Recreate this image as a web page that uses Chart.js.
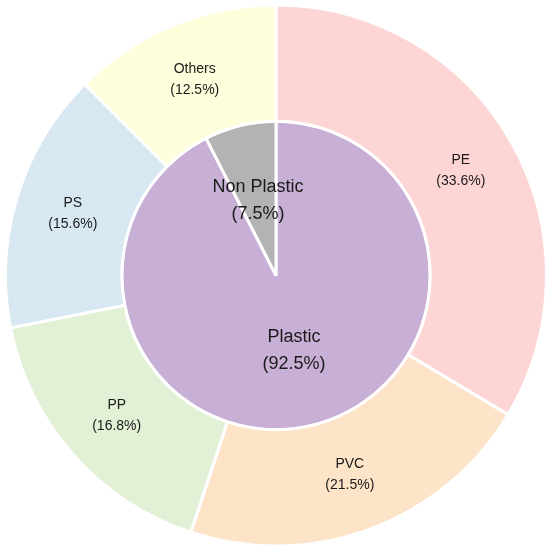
<!DOCTYPE html>
<html><head><meta charset="utf-8">
<script src="https://cdn.jsdelivr.net/npm/chart.js@4/dist/chart.umd.min.js"></script>
<style>html,body{margin:0;padding:0;background:#fff}#w{width:550px;height:551px}</style>
</head><body><div id="w"><canvas id="c"></canvas></div>
<script>
const outerLabels = ['PE','PVC','PP','PS','Others'];
const outerValues = [33.6, 21.5, 16.8, 15.6, 12.5];
const outerColors = ['#fed5d5','#fde3c7','#e2f0d5','#d8e8f2','#fefedc'];
const innerLabels = ['Plastic','Non Plastic'];
const innerValues = [92.5, 7.5];
const innerColors = ['#c8afd5','#b3b3b3'];

const labelPlugin = {
  id: 'arcLabels',
  afterDatasetsDraw(chart) {
    const ctx = chart.ctx;
    chart.data.datasets.forEach((ds, di) => {
      const meta = chart.getDatasetMeta(di);
      const big = di === 1;
      const fs = big ? 18 : 14;
      const lh = big ? 27 : 21;
      meta.data.forEach((arc, i) => {
        const p = arc.getCenterPoint();
        const lines = [ds.names[i], '(' + ds.data[i].toFixed(1) + '%)'];
        ctx.save();
        ctx.fillStyle = '#1a1a1a';
        ctx.font = fs + 'px "Liberation Sans", Arial, sans-serif';
        ctx.textAlign = 'center';
        ctx.textBaseline = 'middle';
        ctx.fillText(lines[0], p.x, p.y - lh / 2);
        ctx.fillText(lines[1], p.x, p.y + lh / 2);
        ctx.restore();
      });
    });
  }
};

new Chart(document.getElementById('c'), {
  type: 'doughnut',
  data: {
    labels: outerLabels,
    datasets: [
      { data: outerValues, names: outerLabels, backgroundColor: outerColors, borderColor: '#ffffff', borderWidth: 3, weight: 0.43 },
      { data: innerValues, names: innerLabels, backgroundColor: innerColors, borderColor: '#ffffff', borderWidth: 3, weight: 0.57 }
    ]
  },
  options: {
    responsive: true,
    maintainAspectRatio: false,
    animation: false,
    cutout: 0,
    layout: { padding: { top: 3, bottom: 3, left: 4, right: 2 } },
    plugins: { legend: { display: false }, tooltip: { enabled: false } }
  },
  plugins: [labelPlugin]
});
</script>
</body></html>
